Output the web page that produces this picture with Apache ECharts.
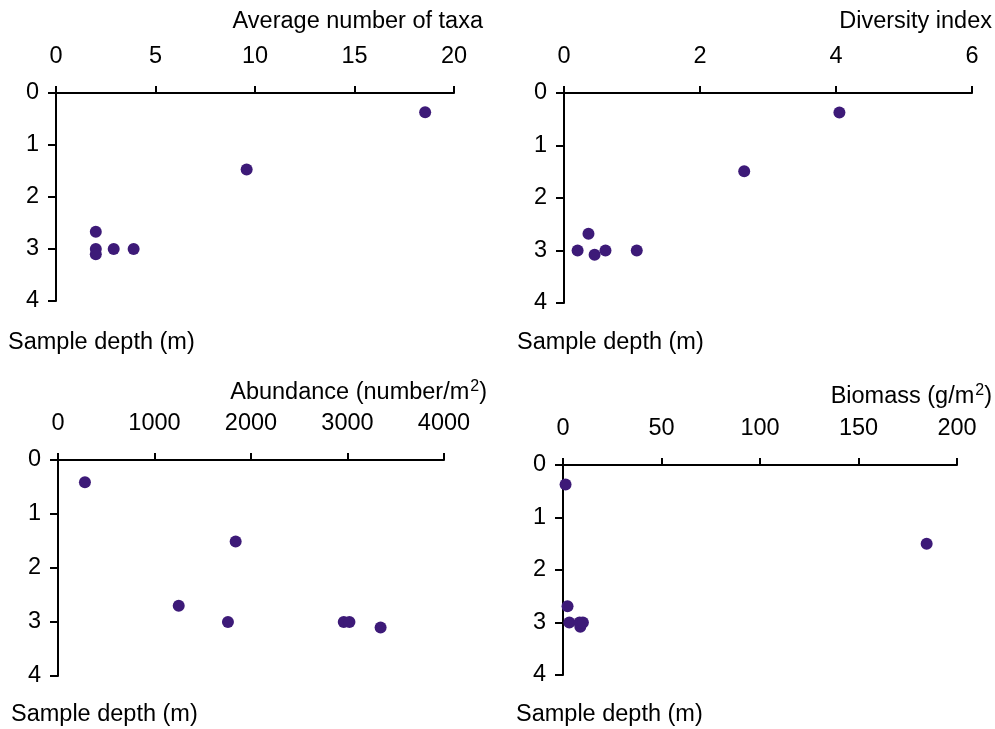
<!DOCTYPE html>
<html>
<head>
<meta charset="utf-8">
<script src="https://cdn.jsdelivr.net/npm/echarts@6/dist/echarts.min.js"></script>
<style>
  html, body { margin: 0; padding: 0; background: #fff; }
  #chart { width: 995px; height: 729px; }
</style>
</head>
<body>
<div id="chart"></div>
<script>
// Sample depth (m) for each of the seven samples
const depthTaxa      = [0.37, 1.47, 2.67, 3.0, 3.1, 3.0, 3.0];
const depthDiversity = [0.37, 1.49, 2.68, 3.0, 3.08, 3.0, 3.0];
const depthAbundance = [0.41, 1.51, 2.70, 3.0, 3.1, 3.0, 3.0];
const depthBiomass   = [0.37, 1.50, 2.69, 3.0, 3.08, 3.0, 3.0];

// Measured variables per sample
const taxa      = [18.55, 9.58, 2.0, 2.0, 2.0, 2.9, 3.9];
const diversity = [4.05, 2.65, 0.36, 0.2, 0.45, 0.61, 1.07];
const abundance = [279, 1841, 1251, 1761, 3343, 2961, 3020];
const biomass   = [1.3, 184.6, 2.3, 3.2, 8.8, 8.4, 10.1];

// Axis ranges
const xRanges = [
  { min: 0, max: 20, interval: 5 },
  { min: 0, max: 6, interval: 2 },
  { min: 0, max: 4000, interval: 1000 },
  { min: 0, max: 200, interval: 50 }
];
const depthTicks = { min: 0, max: 4, interval: 1 };

const FONT = 'Liberation Sans, Arial, sans-serif';
const FS = 23.5;
const DOT = '#3d1a78';
const depthLabel = 'Sample depth (m)';

const grids = [
  { left: 56,  top: 93,  width: 398, height: 208 },
  { left: 564, top: 93,  width: 408, height: 210 },
  { left: 58,  top: 460, width: 386, height: 216 },
  { left: 563, top: 465, width: 394, height: 210 }
];

const axisLine = { show: true, onZero: false, lineStyle: { color: '#000', width: 2 } };
const axisTick = { show: true, length: 8, lineStyle: { color: '#000', width: 2 } };

const xAxes = xRanges.map((r, i) => ({
  type: 'value', gridIndex: i, position: 'top',
  min: r.min, max: r.max, interval: r.interval,
  axisLine, axisTick: Object.assign({}, axisTick, { length: 7 }),
  splitLine: { show: false },
  axisLabel: { color: '#000', fontFamily: FONT, fontSize: FS, margin: 24,
               formatter: v => String(v) }
}));

const yAxes = grids.map((g, i) => ({
  type: 'value', gridIndex: i, inverse: true,
  min: depthTicks.min, max: depthTicks.max, interval: depthTicks.interval,
  axisLine, axisTick,
  splitLine: { show: false },
  axisLabel: { color: '#000', fontFamily: FONT, fontSize: FS, margin: 17,
               formatter: v => String(v) }
}));

const pairs = [
  [taxa, depthTaxa],
  [diversity, depthDiversity],
  [abundance, depthAbundance],
  [biomass, depthBiomass]
];

const series = pairs.map((p, i) => ({
  type: 'scatter', xAxisIndex: i, yAxisIndex: i,
  symbol: 'circle', symbolSize: 12,
  itemStyle: { color: DOT, opacity: 1 },
  data: p[0].map((v, k) => [v, p[1][k]])
}));

const baseText = { color: '#000', fontFamily: FONT, fontSize: FS, fontWeight: 'normal' };
const richText = {
  a: { color: '#000', fontFamily: FONT, fontSize: FS },
  sup: { color: '#000', fontFamily: FONT, fontSize: 16, padding: [0, 0, 12, 1] }
};

const titles = [
  { text: 'Average number of taxa', right: 512, top: 10, textStyle: baseText },
  { text: 'Diversity index', right: 3, top: 10, textStyle: baseText },
  { text: '{a|Abundance (number/m}{sup|2}{a|)}', right: 508, top: 379, textStyle: Object.assign({}, baseText, { rich: richText }) },
  { text: '{a|Biomass (g/m}{sup|2}{a|)}', right: 3, top: 383, textStyle: Object.assign({}, baseText, { rich: richText }) },
  { text: depthLabel, left: 8, top: 331, textStyle: baseText },
  { text: depthLabel, left: 517, top: 331, textStyle: baseText },
  { text: depthLabel, left: 11, top: 703, textStyle: baseText },
  { text: depthLabel, left: 516, top: 703, textStyle: baseText }
].map(t => Object.assign({ padding: 0 }, t));

const chart = echarts.init(document.getElementById('chart'), null, { renderer: 'canvas' });
chart.setOption({
  backgroundColor: '#fff',
  animation: false,
  title: titles,
  grid: grids,
  xAxis: xAxes,
  yAxis: yAxes,
  series
});
</script>
</body>
</html>
